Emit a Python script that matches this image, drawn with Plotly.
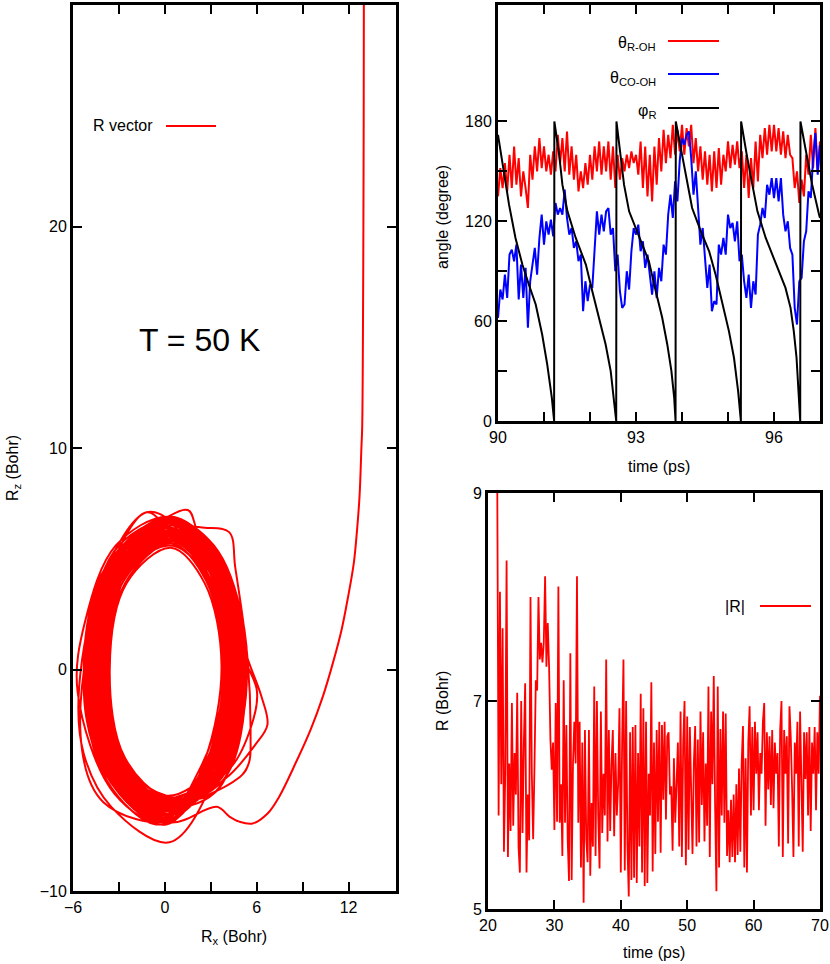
import plotly.graph_objects as go

W, H = 830, 964

# ---------------- data: R vector trajectory (Bohr) ----------------
approach_x = [13.00, 12.99, 12.97, 12.94, 12.89, 12.84, 12.72, 12.56, 12.35, 11.98, 11.55,
              10.98, 10.33, 9.53, 8.56, 7.47, 6.71, 5.74, 4.87, 4.22, 3.40]
approach_z = [30.0, 25.0, 20.0, 15.0, 10.9, 10.0, 7.85, 6.34, 4.84, 3.32, 1.81,
              0.30, -1.20, -2.70, -4.20, -5.74, -6.50, -6.95, -6.87, -6.64, -6.20]

loop_x = [
    0.3, -3.4, -4.8, -3.5, 0.3, 3.6, 5.0, 3.5,
    0.0, -3.2, -4.6, -3.3, 0.5, 3.4, 4.8, 3.3,
    0.3, -3.5, -5.3, -5.6, -4.0, -1.2, 0.6, 3.5, 4.6, 3.1,
    0.2, -2.9, -4.2, -3.0, 0.4, 3.0, 4.2, 3.0,
    0.4, -3.0, -4.4, -3.1, 0.8, 3.3, 4.6, 3.4,
    -0.1, -3.6, -5.2, -3.7, 0.2, 3.6, 5.1, 3.7,
    0.1, -2.7, -3.8, -2.7, 0.5, 2.8, 4.0, 2.8,
    0.2, -3.3, -4.7, -3.3, 0.5, 3.6, 5.4, 6.3, 6.7, 5.9, 4.0,
    0.5, -3.0, -4.3, -3.0, 0.6, 3.1, 4.3, 3.1,
    -0.3, -3.8, -5.3, -3.8, 0.4, 3.8, 5.3, 3.8,
    0.2, -2.8, -4.0, -2.8, 0.3, 2.9, 4.1, 2.9,
    0.1, -3.4, -4.9, -3.4, -1.0, 1.5, 2.1, 3.5, 5.0, 3.5,
    0.0, -3.1, -4.5, -3.2, 0.2, 3.2, 4.5, 3.2,
    0.3, -2.6, -3.7, -2.6, 0.4, 2.7, 3.8, 2.7,
    -0.1, -3.5, -5.0, -3.5, 0.5, 3.6, 5.1, 3.6,
    0.4, -3.2, -4.6, -3.3, 0.7, 2.6, 4.2, 4.6, 5.4, 5.6, 5.5, 4.9,
    0.0, -2.9, -4.2, -3.0, 0.3, 3.0, 4.3, 3.0,
    0.2, -3.6, -5.1, -3.6, 0.4, 3.7, 5.2, 3.7,
    -0.2, -3.1, -4.4, -3.1, 0.3, 3.1, 4.4, 3.1,
    0.1, -2.6, -3.6, -2.5, 0.4, 2.6, 3.7, 2.6,
    0.3, -4.0, -5.5, -3.4, 0.6, 3.4, 4.8, 3.4,
    0.0, -3.7, -5.2, -3.6, 0.1, 3.7, 5.2, 3.7,
    0.2, -2.8, -4.0, -2.9, 0.5, 2.9, 4.1, 2.9,
    -0.1, -3.2, -4.6, -3.5, -1.2, 0.3, 3.3, 4.6, 3.2,
    0.3, -3.4, -4.9, -3.5, 0.6, 3.5, 4.9, 3.5,
    0.0, -3.0, -4.3, -3.0, 0.4, 3.1, 4.3, 3.1,
    0.2, -2.7, -3.9, -2.8, 0.5, 2.8, 3.9, 2.8,
    0.1, -3.5, -5.0, -3.5, 0.3, 3.6, 5.0, 3.6,
    0.4, -3.1, -4.5, -3.2, 0.7, 3.2, 4.8, 6.0, 5.8, 4.2,
    -0.1, -2.8, -4.1, -2.9, 0.2, 2.9, 4.2, 2.9,
    0.2, -3.3, -4.7, -3.3, 0.5, 3.4, 4.8, 3.4,
    0.0, -3.6, -5.1, -3.6, 0.4, 3.6, 5.1, 3.6,
    0.3, -2.9, -4.2, -3.0, 0.5, 3.0, 4.2, 3.0,
    0.1, -3.2, -4.6, -3.2, 0.3, 3.3, 4.7, 3.3,
    0.0, -2.6, -3.8, -2.7, 0.4, 2.7, 3.8, 2.7,
    0.2, -3.4, -4.9, -3.5, 0.5, 3.5, 5.0, 3.5,
    0.1, -3.1, -4.4, -3.1, 0.4, 3.2, 4.5, 3.2,
    -0.2, -3.7, -5.2, -3.7, 0.3, 3.7, 5.2, 3.7,
    0.3, -2.8, -4.0, -2.8, 0.4, 2.9, 4.1, 2.9,
    0.1, -2.6, -4.3, -4.3, -2.6, 0.3, 2.8, 4.5, 4.5, 2.8,
    0.2, -2.3, -3.9, -3.7, -2.4, 0.6, 2.5, 3.9, 3.8, 2.3,
    -0.1, -3.0, -4.8, -4.7, -2.9, 0.4, 3.0, 4.8, 4.8, 2.9,
    0.3, -2.5, -4.1, -4.1, -2.5, 0.5, 2.6, 4.1, 4.1, 2.6,
    0.0, -3.2, -5.1, -4.9, -3.0, 0.6, 3.2, 5.2, 5.0, 3.2,
    0.1, -2.2, -3.6, -3.6, -2.2, 0.4, 2.3, 3.7, 3.6, 2.2,
    0.2, -2.8, -4.6, -4.5, -2.9, 0.5, 2.9, 4.6, 4.6, 2.8,
    -0.2, -2.7, -4.3, -4.2, -2.6, 0.2, 2.7, 4.3, 4.2, 2.6,
    0.3, -3.0, -4.9, -4.8, -3.0, 0.5, 3.0, 4.9, 4.9, 3.0,
    0.0, -2.4, -3.9, -3.9, -2.4, 0.4, 2.4, 3.9, 3.9, 2.4,
    0.1, -2.8, -4.5, -4.4, -2.8, 0.4, 2.8, 4.5, 4.4, 2.8,
    0.2, -3.1, -5.0, -4.9, -3.1, 0.3, 3.1, 5.0, 5.0, 3.1,
    -0.1, -2.6, -4.2, -4.2, -2.6, 0.3, 2.6, 4.2, 4.2, 2.6,
    0.2, -2.3, -3.7, -3.7, -2.3, 0.4, 2.3, 3.7, 3.7, 2.3,
    0.0, -2.9, -4.7, -4.7, -2.9, 0.4, 2.9, 4.7, 4.7, 2.9,
    0.3, -2.5, -4.0, -4.0, -2.4, 0.6, 2.5, 4.0, 4.0, 2.5,
    0.1, -3.3, -5.7, -5.2, -3.2, 0.2, 3.2, 5.1, 5.1, 3.2,
    0.2, -2.7, -4.4, -4.3, -2.7, 0.4, 2.7, 4.4, 4.4, 2.7,
    -0.1, -2.4, -3.8, -3.8, -2.3, 0.3, 2.4, 3.8, 3.8, 2.4,
    0.2, -3.0, -4.8, -4.7, -3.0, 0.5, 3.0, 4.8, 4.8, 3.0,
    0.0, -3.3, -4.7, -3.4, 0.5, 3.4, 4.7, 3.3, 0.1,
]
loop_z = [
    -6.9, -5.0, -0.5, 4.2, 6.4, 4.6, 0.2, -4.6,
    -6.4, -4.6, -0.2, 4.4, 6.5, 4.4, -0.3, -4.8,
    -7.8, -6.2, -3.8, -0.8, 4.3, 7.1, 6.6, 4.2, 0.0, -4.5,
    -6.1, -4.5, -0.4, 4.1, 6.0, 4.3, 0.2, -4.4,
    -6.3, -4.4, 0.1, 4.5, 6.3, 4.5, -0.2, -4.6,
    -6.8, -4.9, -0.3, 4.6, 6.8, 4.7, 0.1, -4.8,
    -5.9, -4.2, 0.2, 4.0, 5.8, 4.1, -0.1, -4.3,
    -6.5, -4.7, 0.0, 4.5, 6.5, 4.6, 0.5, -1.2, -2.5, -3.4, -4.9,
    -6.2, -4.6, -0.6, 4.3, 6.2, 4.3, 0.0, -4.5,
    -7.0, -5.0, 0.0, 4.7, 6.9, 4.8, -0.4, -5.0,
    -6.0, -4.3, 0.0, 4.1, 5.9, 4.2, 0.1, -4.3,
    -6.6, -4.7, 0.2, 4.6, 6.3, 7.2, 6.3, 4.6, 0.0, -4.7,
    -6.3, -4.5, -0.1, 4.4, 6.2, 4.4, 0.2, -4.5,
    -5.8, -4.1, -0.3, 3.9, 5.7, 4.0, 0.0, -4.2,
    -6.7, -4.8, 0.4, 4.7, 6.7, 4.7, -0.2, -4.8,
    -6.4, -4.5, 0.0, 4.4, 6.4, 6.4, 6.2, 4.6, 0.5, -3.0, -4.2, -4.85,
    -6.1, -4.4, 0.3, 4.2, 6.0, 4.3, 0.0, -4.4,
    -6.9, -4.9, -0.2, 4.7, 6.8, 4.8, 0.2, -4.9,
    -6.2, -4.4, 0.2, 4.3, 6.1, 4.3, -0.3, -4.4,
    -5.7, -4.0, 0.0, 3.9, 5.5, 3.9, 0.2, -4.1,
    -6.8, -6.0, -3.0, 4.5, 6.5, 4.5, 0.0, -4.6,
    -6.8, -4.8, 0.1, 4.8, 6.8, 4.7, 0.0, -4.9,
    -6.0, -4.3, 0.4, 4.2, 6.0, 4.2, -0.2, -4.3,
    -6.4, -4.6, -0.2, 4.6, 7.1, 6.3, 4.4, 0.1, -4.5,
    -6.6, -4.7, 0.0, 4.6, 6.6, 4.6, 0.3, -4.7,
    -6.2, -4.4, 0.1, 4.3, 6.1, 4.3, 0.0, -4.4,
    -5.9, -4.2, -0.2, 4.1, 5.8, 4.1, 0.1, -4.2,
    -6.7, -4.8, 0.2, 4.6, 6.7, 4.7, -0.1, -4.8,
    -6.3, -4.5, 0.0, 4.4, 6.3, 4.4, 1.0, -0.9, -2.2, -4.5,
    -6.0, -4.3, -0.1, 4.2, 5.9, 4.2, 0.0, -4.3,
    -6.5, -4.6, 0.3, 4.5, 6.5, 4.5, -0.2, -4.6,
    -6.8, -4.9, 0.0, 4.7, 6.7, 4.7, 0.1, -4.8,
    -6.1, -4.4, 0.1, 4.3, 6.1, 4.3, -0.1, -4.4,
    -6.4, -4.5, -0.3, 4.4, 6.4, 4.5, 0.0, -4.6,
    -5.8, -4.2, 0.1, 4.0, 5.7, 4.0, 0.0, -4.2,
    -6.6, -4.7, -0.1, 4.6, 6.6, 4.6, 0.2, -4.7,
    -6.3, -4.5, 0.2, 4.4, 6.2, 4.4, -0.1, -4.5,
    -6.9, -4.9, 0.1, 4.7, 6.8, 4.8, 0.0, -4.9,
    -6.0, -4.3, -0.2, 4.1, 5.9, 4.2, 0.1, -4.3,
    -6.3, -5.1, -2.0, 2.0, 5.1, 6.3, 5.1, 2.0, -2.0, -5.1,
    -5.9, -4.8, -1.8, 2.0, 4.7, 5.8, 4.9, 1.8, -1.9, -4.8,
    -6.7, -5.3, -2.1, 2.1, 5.4, 6.6, 5.3, 2.0, -2.1, -5.4,
    -6.1, -4.9, -1.9, 1.9, 4.9, 6.1, 5.0, 1.9, -1.9, -5.0,
    -6.9, -5.4, -2.3, 2.2, 5.6, 6.8, 5.5, 1.8, -2.3, -5.6,
    -5.7, -4.6, -1.8, 1.8, 4.6, 5.6, 4.6, 1.8, -1.8, -4.6,
    -6.5, -5.2, -2.0, 2.1, 5.2, 6.5, 5.2, 2.0, -2.0, -5.3,
    -6.2, -5.0, -1.9, 2.0, 5.0, 6.2, 5.0, 1.9, -2.0, -5.0,
    -6.8, -5.4, -2.0, 2.1, 5.4, 6.7, 5.4, 2.1, -2.0, -5.4,
    -6.0, -4.9, -1.9, 1.8, 4.8, 6.0, 4.8, 1.8, -1.9, -4.8,
    -6.4, -5.2, -2.0, 2.0, 5.2, 6.4, 5.2, 2.0, -2.0, -5.2,
    -6.6, -5.4, -2.1, 2.0, 5.3, 6.6, 5.3, 2.0, -2.1, -5.3,
    -6.3, -5.1, -2.0, 1.9, 5.1, 6.3, 5.1, 1.9, -2.0, -5.1,
    -5.8, -4.7, -1.8, 1.8, 4.7, 5.8, 4.7, 1.8, -1.8, -4.7,
    -6.6, -5.3, -2.0, 2.0, 5.3, 6.6, 5.3, 2.0, -2.0, -5.3,
    -6.0, -4.9, -1.9, 1.9, 4.9, 6.0, 4.9, 1.9, -1.9, -4.9,
    -7.0, -5.6, -1.0, 2.2, 5.6, 6.9, 5.6, 2.1, -2.2, -5.6,
    -6.2, -5.0, -2.0, 2.0, 5.0, 6.2, 5.0, 1.9, -1.9, -5.0,
    -5.8, -4.7, -1.8, 1.8, 4.7, 5.8, 4.7, 1.8, -1.8, -4.7,
    -6.5, -5.3, -2.0, 2.1, 5.3, 6.5, 5.3, 2.0, -2.0, -5.3,
    -6.5, -4.6, 0.0, 4.5, 6.5, 4.5, 0.2, -4.6, -6.4,
]

# ---------------- data: angles (degree), 90-97 ps ----------------
angle_t0, angle_dt = 90.0, 0.05
theta_r_oh = [
    135, 152, 140, 155, 138, 160, 140, 165, 142, 158, 135, 150, 140, 128, 160, 145, 165, 150, 170, 152,
    165, 150, 160, 148, 162, 150, 172, 155, 170, 150, 174, 148, 165, 145, 160, 138, 150, 140, 155, 142,
    160, 145, 165, 150, 168, 148, 165, 150, 168, 145, 165, 140, 160, 145, 158, 150, 160, 152, 162, 155,
    160, 148, 168, 140, 165, 135, 160, 132, 165, 142, 170, 150, 175, 155, 172, 158, 178, 160, 175, 162,
    178, 160, 176, 165, 178, 155, 170, 150, 165, 145, 162, 142, 160, 138, 162, 140, 164, 142, 160, 150,
    168, 152, 166, 154, 168, 152, 162, 140, 160, 134, 158, 140, 168, 144, 172, 158, 176, 160, 178, 162,
    178, 162, 176, 160, 174, 158, 172, 160, 158, 140, 150, 131, 145, 135, 160, 148, 172, 152, 176, 150,
    168,
]
theta_co_oh = [
    62, 79, 73, 88, 74, 100, 103, 96, 106, 73, 94, 74, 92, 56, 84, 95, 104, 88, 110, 124,
    106, 120, 112, 121, 111, 131, 124, 128, 124, 139, 122, 112, 116, 104, 108, 96, 100, 66, 84, 72,
    82, 80, 104, 126, 112, 124, 114, 126, 128, 112, 116, 90, 100, 78, 68, 70, 90, 79, 102, 116,
    112, 118, 102, 108, 92, 100, 88, 76, 90, 74, 92, 84, 106, 100, 124, 136, 122, 144, 132, 156,
    170, 166, 172, 174, 158, 136, 150, 128, 106, 116, 100, 80, 94, 66, 72, 70, 106, 100, 110, 100,
    124, 116, 119, 108, 120, 96, 100, 84, 74, 88, 68, 84, 76, 112, 118, 128, 122, 142, 136, 146,
    134, 146, 132, 146, 124, 114, 120, 104, 100, 68, 58, 84, 86, 108, 114, 138, 134, 158, 173, 148,
    166,
]
phi_t = [90.00, 90.13, 90.24, 90.38, 90.53, 90.67, 90.82, 90.96, 91.07, 91.17, 91.22,
         91.225, 91.33, 91.40, 91.51, 91.69, 91.91, 92.05, 92.20, 92.34, 92.45, 92.52, 92.57,
         92.575, 92.67, 92.74, 92.85, 93.07, 93.28, 93.43, 93.57, 93.68, 93.77, 93.83, 93.86,
         93.865, 94.00, 94.12, 94.22, 94.41, 94.59, 94.73, 94.88, 95.02, 95.13, 95.22, 95.28,
         95.285, 95.42, 95.53, 95.64, 95.82, 96.04, 96.25, 96.36, 96.43, 96.49, 96.54, 96.57,
         96.575, 96.69, 96.83, 96.98, 97.00]
phi_r = [172, 148, 130, 110, 94, 82, 70, 52, 34, 14, 0,
         180, 160, 142, 126, 110, 94, 78, 62, 46, 30, 14, 0,
         180, 158, 142, 126, 110, 96, 78, 62, 46, 30, 14, 0,
         180, 160, 142, 128, 114, 102, 88, 70, 54, 38, 18, 0,
         180, 158, 142, 126, 110, 94, 80, 68, 54, 38, 14, 0,
         180, 162, 142, 124, 122]

# ---------------- data: |R| (Bohr), 21.4-70 ps ----------------
r_t0, r_dt = 21.4, 0.2
r_abs = [
    9.0, 5.9, 8.05, 6.2, 7.7, 5.55, 6.3, 8.35, 5.5, 6.4,
    5.75, 6.98, 5.8, 6.5, 6.1, 7.08, 5.6, 5.35, 7.0, 5.73,
    6.6, 7.17, 5.35, 6.1, 5.66, 8.0, 6.3, 5.67, 6.37, 7.2,
    7.1, 8.0, 7.4, 7.56, 7.37, 7.56, 8.2, 7.33, 7.75, 7.33,
    6.63, 6.34, 6.6, 5.76, 6.98, 5.84, 8.1, 5.83, 6.2, 5.51,
    7.2, 5.83, 6.77, 5.67, 5.27, 7.46, 5.28, 6.4, 6.8, 6.4,
    8.2, 5.83, 6.8, 5.4, 6.6, 5.06, 6.72, 5.67, 5.45, 6.72,
    5.32, 6.02, 5.6, 7.14, 5.51, 7.0, 5.9, 5.39, 6.9, 5.73,
    6.3, 5.9, 7.4, 5.65, 6.72, 5.75, 6.4, 6.72, 5.7, 6.5,
    5.9, 6.2, 6.93, 5.35, 6.6, 7.4, 5.37, 7.0, 5.6, 5.12,
    6.7, 5.28, 6.75, 5.3, 6.77, 5.25, 6.5, 5.6, 7.07, 5.35,
    6.93, 5.22, 6.8, 5.25, 6.3, 5.9, 7.18, 5.36, 6.6, 5.53,
    6.72, 5.84, 6.8, 5.54, 6.77, 6.05, 6.8, 5.86, 6.66, 6.7,
    6.1, 6.18, 5.56, 6.45, 5.83, 6.3, 6.6, 5.6, 6.9, 5.5,
    6.6, 7.0, 5.42, 6.85, 5.57, 6.75, 6.2, 5.53, 6.4, 6.76,
    5.6, 6.63, 5.64, 6.9, 6.0, 6.7, 5.65, 6.4, 5.8, 7.14,
    5.5, 6.9, 6.2, 7.24, 6.0, 5.17, 7.14, 5.4, 6.73, 5.9,
    6.9, 5.83, 6.88, 5.51, 5.95, 5.45, 6.05, 5.5, 6.1, 5.45,
    6.2, 5.52, 6.35, 5.55, 6.4, 6.76, 5.4, 6.45, 5.35, 6.6,
    6.95, 5.9, 6.75, 5.95, 6.8, 6.3, 6.7, 5.95, 6.5, 6.3,
    6.8, 6.98, 5.8, 6.7, 6.15, 6.66, 6.0, 6.72, 5.97, 6.6,
    6.3, 6.5, 5.6, 6.72, 7.0, 5.5, 6.72, 6.3, 6.66, 5.63,
    6.95, 6.65, 6.15, 5.5, 6.6, 6.3, 6.8, 5.6, 6.9, 6.16,
    5.55, 6.7, 6.25, 6.7, 5.9, 6.75, 5.75, 6.6, 6.3, 6.75,
    5.95, 6.7, 6.3, 7.05,
]

# ---------------- figure ----------------
angle_t = [angle_t0 + angle_dt * i for i in range(len(theta_r_oh))]
r_t = [r_t0 + r_dt * i for i in range(len(r_abs))]

FONT = "Liberation Sans, Arial, Helvetica, sans-serif"
RED, BLUE, BLACK = "#ff0000", "#0000ff", "#000000"


def px(x):
    return x / W


def py(y):
    return 1 - y / H


fig = go.Figure()
fig.add_trace(go.Scatter(x=approach_x + loop_x, y=approach_z + loop_z, mode="lines",
                         line=dict(color=RED, width=2.0, shape="spline", smoothing=1.0),
                         xaxis="x", yaxis="y", showlegend=False))
fig.add_trace(go.Scatter(x=angle_t, y=theta_r_oh, mode="lines", line=dict(color=RED, width=2),
                         xaxis="x2", yaxis="y2", showlegend=False))
fig.add_trace(go.Scatter(x=angle_t, y=theta_co_oh, mode="lines", line=dict(color=BLUE, width=2),
                         xaxis="x2", yaxis="y2", showlegend=False))
fig.add_trace(go.Scatter(x=phi_t, y=phi_r, mode="lines", line=dict(color=BLACK, width=2),
                         xaxis="x2", yaxis="y2", showlegend=False))
fig.add_trace(go.Scatter(x=r_t, y=r_abs, mode="lines", line=dict(color=RED, width=1.8),
                         xaxis="x3", yaxis="y3", showlegend=False))

axis_common = dict(showline=True, linewidth=3, linecolor="black", mirror="allticks",
                   ticks="inside", ticklen=9, tickwidth=1.5, tickcolor="black",
                   showgrid=False, zeroline=False, automargin=False,
                   tickfont=dict(family=FONT, size=16, color="black"))


def minor(vals):
    return dict(tickvals=vals, ticks="inside", ticklen=9, tickwidth=1.5,
                tickcolor="black", showgrid=False)


fig.update_layout(
    template="none",
    font=dict(family=FONT, size=16, color="black"),
    width=W, height=H, margin=dict(l=0, r=0, t=0, b=0, pad=0), autosize=False,
    paper_bgcolor="white", plot_bgcolor="white",
    xaxis=dict(domain=[px(73), px(396)], range=[-6, 15.1], anchor="y",
               tickvals=[-6, 0, 6, 12], minor=minor([-3, 3, 9]), **axis_common),
    yaxis=dict(domain=[py(891), py(5)], range=[-10, 30], anchor="x",
               tickvals=[-10, 0, 10, 20, 30], **axis_common),
    xaxis2=dict(domain=[px(498), px(820)], range=[90, 97], anchor="y2",
                tickvals=[90, 93, 96], minor=minor([91, 92, 94, 95, 97]), **axis_common),
    yaxis2=dict(domain=[py(421), py(5)], range=[0, 250], anchor="x2",
                tickvals=[0, 60, 120, 180], minor=minor([30, 90, 150]), **axis_common),
    xaxis3=dict(domain=[px(488), px(820)], range=[20, 70], anchor="y3",
                tickvals=[20, 30, 40, 50, 60, 70], **axis_common),
    yaxis3=dict(domain=[py(909), py(493)], range=[5, 9], anchor="x3",
                tickvals=[5, 7, 9], **axis_common),
)

txt = dict(family=FONT, size=16, color="black")
annotations = [
    dict(text="R<sub>x</sub> (Bohr)", x=px(234), y=py(937)),
    dict(text="R<sub>z</sub> (Bohr)", x=px(13), y=py(468), textangle=-90),
    dict(text="angle (degree)", x=px(443), y=py(217), textangle=-90),
    dict(text="time (ps)", x=px(659), y=py(466)),
    dict(text="R (Bohr)", x=px(442), y=py(701), textangle=-90),
    dict(text="time (ps)", x=px(654), y=py(952)),
    dict(text="T = 50 K", x=px(199), y=py(340), font=dict(family=FONT, size=32, color="black")),
    dict(text="R vector", x=px(155), y=py(126), xanchor="right"),
    dict(text="θ<sub>R-OH</sub>", x=px(658), y=py(44), xanchor="right"),
    dict(text="θ<sub>CO-OH</sub>", x=px(658), y=py(78), xanchor="right"),
    dict(text="φ<sub>R</sub>", x=px(658), y=py(111), xanchor="right"),
    dict(text="|R|", x=px(747), y=py(606), xanchor="right"),
]
for a in annotations:
    a.setdefault("xanchor", "center")
    a.setdefault("font", txt)
    a.update(xref="paper", yref="paper", yanchor="middle", showarrow=False)
fig.update_layout(annotations=annotations)

legend_lines = [
    (166, 216, 126, RED),
    (668, 719, 41, RED),
    (668, 719, 74, BLUE),
    (668, 719, 108, BLACK),
    (760, 811, 606, RED),
]
fig.update_layout(shapes=[
    dict(type="line", xref="paper", yref="paper", x0=px(a), x1=px(b), y0=py(y), y1=py(y),
         line=dict(color=c, width=2))
    for a, b, y, c in legend_lines
])

fig.write_html("out.html", config={"displayModeBar": False},
               post_script="document.body.style.margin='0';document.body.style.overflow='hidden';")
